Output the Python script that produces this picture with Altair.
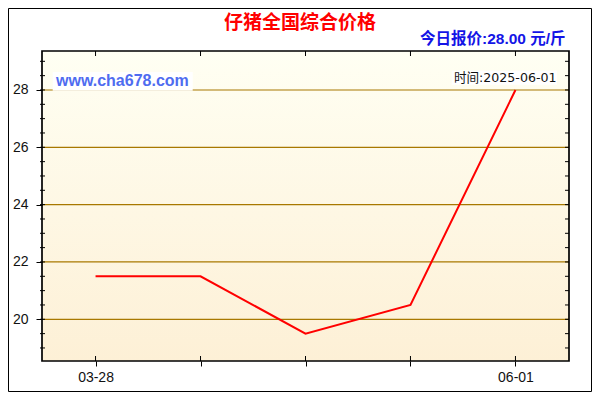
import json
import altair as alt
import pandas as pd

# ---- data ----
dates = ["03-28", "", "", "", "06-01"]
prices = [21.5, 21.5, 19.5, 20.5, 28.0]
y_major = [20, 22, 24, 26, 28]
y_minor = [19.0, 19.5, 20.0, 20.5, 21.0, 21.5, 22.0, 22.5, 23.0, 23.5, 24.0,
           24.5, 25.0, 25.5, 26.0, 26.5, 27.0, 27.5, 28.0, 28.5, 29.0]
title_text = "仔猪全国综合价格"
price_text = "今日报价:28.00 元/斤"
site_text = "www.cha678.com"
time_text = "时间:2025-06-01"

W, H = 527, 310
X_DOMAIN = [-0.51, 4.51]
Y_DOMAIN = [18.545, 29.36]

df = pd.DataFrame({"idx": list(range(len(prices))), "date": dates, "price": prices})
grid_df = pd.DataFrame({"price": y_major})
minor_df = pd.DataFrame({"price": y_minor})
one = pd.DataFrame({"a": [0]})

xs = alt.Scale(domain=X_DOMAIN, nice=False, zero=False)
ys = alt.Scale(domain=Y_DOMAIN, nice=False, zero=False)

label_expr = json.dumps(dates) + "[datum.value]"

x_axis = alt.Axis(values=list(range(len(prices))), labelExpr=label_expr, title=None,
                  grid=False, domain=False, tickSize=5, tickColor="black",
                  labelFont="Liberation Sans", labelFontSize=14, labelColor="#111111",
                  labelPadding=4, zindex=1)
y_axis = alt.Axis(values=y_major, format="d", title=None, grid=False, domain=False,
                  tickSize=6, tickColor="black", labelFont="Liberation Sans",
                  labelFontSize=14, labelColor="#111111", labelPadding=8, zindex=1)

X = alt.X("idx:Q", scale=xs, axis=x_axis)
Y = alt.Y("price:Q", scale=ys, axis=y_axis)

gradient = alt.LinearGradient(
    gradient="linear",
    stops=[alt.GradientStop(color="#fffff3", offset=0),
           alt.GradientStop(color="#fdf0d6", offset=1)],
    x1=0, x2=0, y1=0, y2=1)

bg = alt.Chart(one).mark_rect(fill=gradient).encode(
    x=alt.value(0), x2=alt.value(W), y=alt.value(0), y2=alt.value(H))

grid = alt.Chart(grid_df).mark_rule(color="#a87800", strokeWidth=1.2).encode(
    y=Y, x=alt.value(0), x2=alt.value(W))

left_minor = alt.Chart(minor_df).mark_rule(color="black", strokeWidth=1).encode(
    y=Y, x=alt.value(-2), x2=alt.value(3))
right_minor = alt.Chart(minor_df).mark_rule(color="black", strokeWidth=1).encode(
    y=Y, x=alt.value(W - 4), x2=alt.value(W))
top_ticks = alt.Chart(df).mark_rule(color="black", strokeWidth=1).encode(
    x=X, y=alt.value(0), y2=alt.value(5))
bottom_ticks = alt.Chart(df).mark_rule(color="black", strokeWidth=1).encode(
    x=X, y=alt.value(H - 5), y2=alt.value(H))

line = alt.Chart(df).mark_line(color="#ff0000", strokeWidth=2).encode(x=X, y=Y)

site_box = alt.Chart(one).mark_rect(fill="white").encode(
    x=alt.value(10.7), x2=alt.value(150.7), y=alt.value(21), y2=alt.value(39.7))
time_box = alt.Chart(one).mark_rect(fill="white").encode(
    x=alt.value(409.7), x2=alt.value(515), y=alt.value(19.7), y2=alt.value(33.7))

site = alt.Chart(one).mark_text(
    text=site_text, align="left", baseline="middle", font="Liberation Sans",
    fontSize=16, fontWeight="bold", color="#4f6cf0").encode(
    x=alt.value(14), y=alt.value(29.5))
tm = alt.Chart(one).mark_text(
    text=time_text, align="right", baseline="middle",
    font="DejaVu Sans, Noto Sans CJK SC",
    fontSize=12.6, color="#111111").encode(
    x=alt.value(514.5), y=alt.value(26.5))

title = alt.Chart(one).mark_text(
    text=title_text, align="center", baseline="middle", font="Noto Sans CJK SC",
    fontSize=19, fontWeight="bold", color="#ff0000").encode(
    x=alt.value(258), y=alt.value(-27.7))
subtitle = alt.Chart(one).mark_text(
    text=price_text, align="right", baseline="middle",
    font="Liberation Sans, Noto Sans CJK SC",
    fontSize=15.5, fontWeight="bold", color="#1414e6").encode(
    x=alt.value(523.6), y=alt.value(-12.5))

plot_border = alt.Chart(one).mark_rect(fill=None, stroke="black", strokeWidth=1.7).encode(
    x=alt.value(0), x2=alt.value(W), y=alt.value(0), y2=alt.value(H))
outer_border = alt.Chart(one).mark_rect(fill=None, stroke="black", strokeWidth=1).encode(
    x=alt.value(-33.5), x2=alt.value(549.5), y=alt.value(-42.5), y2=alt.value(340.5))

chart = alt.layer(
    bg, grid, line, left_minor, right_minor, top_ticks, bottom_ticks,
    site_box, time_box, site, tm, title, subtitle, plot_border, outer_border
).properties(
    width=W, height=H,
    padding={"left": 34, "top": 43, "right": 23, "bottom": 31},
    autosize=alt.AutoSizeParams(type="none"),
    background="white",
).configure_view(stroke=None)

chart.save("out.html", embed_options={"renderer": "svg", "actions": False})
